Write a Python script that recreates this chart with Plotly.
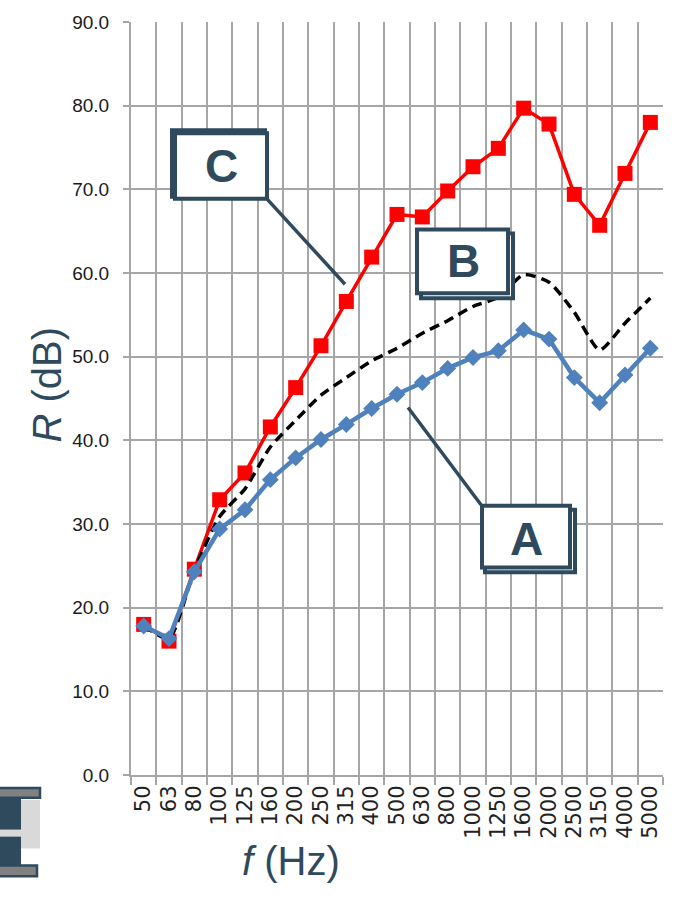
import plotly.graph_objects as go

# Third-octave band centre frequencies (Hz)
freqs = ["50", "63", "80", "100", "125", "160", "200", "250", "315", "400", "500",
         "630", "800", "1000", "1250", "1600", "2000", "2500", "3150", "4000", "5000"]

# Sound reduction index R (dB) per configuration
r_a = [17.8, 16.3, 24.3, 29.4, 31.7, 35.3, 37.9, 40.1, 41.9, 43.8, 45.5,
       46.9, 48.6, 49.9, 50.7, 53.2, 52.1, 47.5, 44.5, 47.8, 51.0]
r_b = [17.8, 16.3, 24.5, 30.9, 34.2, 39.2, 42.4, 45.4, 47.5, 49.5, 51.0,
       52.8, 54.3, 56.0, 57.1, 59.8, 58.9, 55.3, 50.8, 54.0, 57.0]
r_c = [18.0, 16.0, 24.6, 32.9, 36.1, 41.6, 46.3, 51.3, 56.6, 61.9, 67.0,
       66.7, 69.8, 72.7, 74.9, 79.7, 77.8, 69.4, 65.7, 71.9, 78.0]

y_ticks = [0, 10, 20, 30, 40, 50, 60, 70, 80, 90]

W, H = 675, 897
ML, MR, MT, MB = 131, 12, 17, 122
PW, PH = W - ML - MR, H - MT - MB

DARK = "#2E4A5C"
GRID = "#a6a6a6"


def px(x):
    return (x - ML) / PW


def py(y):
    return (H - MB - y) / PH


fig = go.Figure()

fig.add_trace(go.Scatter(
    x=freqs, y=r_c, mode="lines+markers", name="C",
    line=dict(color="#FF0000", width=3.5),
    marker=dict(symbol="square", size=15, color="#FF0000"),
))
fig.add_trace(go.Scatter(
    x=freqs, y=r_b, mode="lines", name="B",
    line=dict(color="#000000", width=3.5, dash="10px,6px", shape="spline", smoothing=0.6),
))
fig.add_trace(go.Scatter(
    x=freqs, y=r_a, mode="lines+markers", name="A",
    line=dict(color="#4F81BD", width=4.5),
    marker=dict(symbol="diamond", size=13, color="#4F81BD"),
))

shapes = []


def rect(x0, y0, x1, y1, fill="white", lw=4, lc=DARK):
    shapes.append(dict(type="rect", xref="paper", yref="paper",
                       x0=px(x0), x1=px(x1), y0=py(y1), y1=py(y0),
                       fillcolor=fill, line=dict(color=lc, width=lw), layer="above"))


def seg(x0, y0, x1, y1):
    shapes.append(dict(type="line", xref="paper", yref="paper",
                       x0=px(x0), x1=px(x1), y0=py(y0), y1=py(y1),
                       line=dict(color=DARK, width=3.5), layer="above"))


# Leader lines
seg(266, 194, 345, 281)
seg(408, 405, 481, 503)

# Label boxes (back frame, then front frame)
rect(172, 126, 265, 193)
rect(175, 129, 267, 195)
rect(421, 230, 513, 295)
rect(417, 226, 508, 290)
rect(485, 508, 575, 571)
rect(482, 504, 570, 566)

# Corner logo fragment
rect(21, 800, 40, 849, fill="#D9D9D9", lw=0)
rect(0, 830, 21, 837, fill="#D9D9D9", lw=0)
rect(-2, 797, 21, 830, fill=DARK, lw=0)
rect(-2, 837, 21, 868, fill=DARK, lw=0)
rect(-2, 788, 40, 798, fill="#808080", lw=2.5)
rect(-2, 866, 37, 877, fill="#808080", lw=2.5)

annotations = [
    dict(text="C", x=px(221), y=py(162)),
    dict(text="B", x=px(463), y=py(258)),
    dict(text="A", x=px(526), y=py(537)),
]
for a in annotations:
    a.update(xref="paper", yref="paper", showarrow=False,
             xanchor="center", yanchor="middle",
             font=dict(family="Liberation Sans, Arial, sans-serif", size=46,
                       color=DARK, weight="bold"))

annotations.append(dict(
    text="<i>R</i> (dB)", x=px(47), y=py(382), xref="paper", yref="paper",
    showarrow=False, textangle=-90, xanchor="center", yanchor="middle",
    font=dict(family="Liberation Sans, Arial, sans-serif", size=40, color=DARK)))
annotations.append(dict(
    text="<i>f</i> (Hz)", x=px(291), y=py(862), xref="paper", yref="paper",
    showarrow=False, xanchor="center", yanchor="middle",
    font=dict(family="Liberation Sans, Arial, sans-serif", size=40, color=DARK)))

fig.update_layout(
    width=W, height=H,
    margin=dict(l=ML, r=MR, t=MT, b=MB, pad=0),
    paper_bgcolor="white", plot_bgcolor="white",
    showlegend=False,
    shapes=shapes, annotations=annotations,
    xaxis=dict(
        type="category", categoryorder="array", categoryarray=freqs,
        range=[-0.5, 20.5], tickson="boundaries",
        ticks="outside", ticklen=8, tickcolor=GRID, tickwidth=1.5,
        showgrid=True, gridcolor=GRID, gridwidth=1.7,
        showline=True, linecolor=GRID, linewidth=2,
        tickangle=-90,
        tickfont=dict(family="DejaVu Sans, sans-serif", size=21, color="#222222"),
    ),
    yaxis=dict(
        range=[0, 90], tickvals=y_ticks, tickformat=".1f",
        ticks="outside", ticklen=6, tickcolor=GRID, tickwidth=1.5,
        showgrid=True, gridcolor=GRID, gridwidth=1.7,
        showline=True, linecolor=GRID, linewidth=2, zeroline=False,
        ticklabelstandoff=10,
        tickfont=dict(family="Liberation Sans, Arial, sans-serif",
                      size=19, color="#1a1a1a"),
    ),
)

fig.write_html("out.html")
